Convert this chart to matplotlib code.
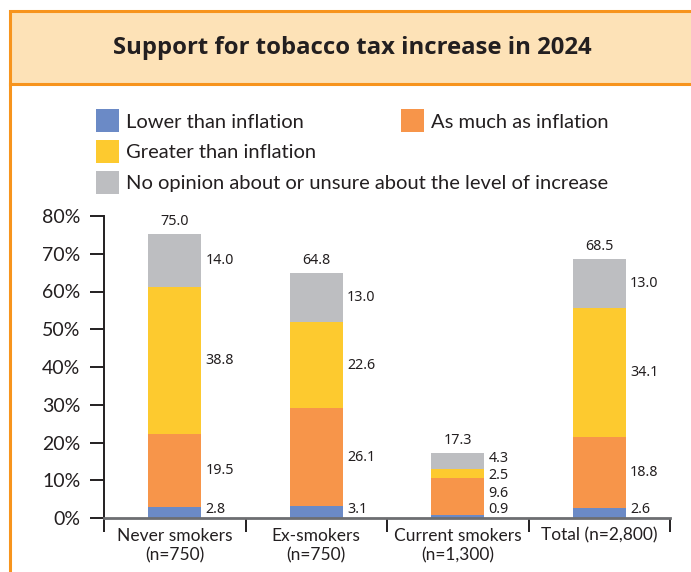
import matplotlib
matplotlib.use("Agg")
import matplotlib.pyplot as plt
from matplotlib.patches import Rectangle
from matplotlib.lines import Line2D
import numpy as np

# ---- data ----
categories = ["Never smokers\n(n=750)", "Ex-smokers\n(n=750)",
              "Current smokers\n(n=1,300)", "Total (n=2,800)"]
series_names = ["Lower than inflation", "As much as inflation",
                "Greater than inflation",
                "No opinion about or unsure about the level of increase"]
lower = [2.8, 3.1, 0.9, 2.6]
as_much = [19.5, 26.1, 9.6, 18.8]
greater = [38.8, 22.6, 2.5, 34.1]
no_opinion = [14.0, 13.0, 4.3, 13.0]
totals = [75.0, 64.8, 17.3, 68.5]
yticks = [0, 10, 20, 30, 40, 50, 60, 70, 80]
ytick_labels = ["0%", "10%", "20%", "30%", "40%", "50%", "60%", "70%", "80%"]
title = "Support for tobacco tax increase in 2024"

colors = ["#6B8AC6", "#F7954A", "#FDCA2F", "#BDBEC1"]
TXT = "#231F20"
MAIN_FONT = ["Lato", "DejaVu Sans"]
NUM_FONT = ["Noto Sans", "DejaVu Sans"]
NUM_SIZE = 10.3

W, H = 691, 572
fig = plt.figure(figsize=(W / 100, H / 100), dpi=100)
fig.patch.set_facecolor("white")


def fx(px):
    return px / W


def fy(py):
    return 1 - py / H


# title box
fig.patches.append(Rectangle((fx(10), fy(84)), fx(700) - fx(10), fy(11.5) - fy(84),
                             transform=fig.transFigure, facecolor="#FDE2B7",
                             edgecolor="#F7941D", linewidth=2.2, zorder=0))
fig.lines.append(Line2D([fx(10), fx(10)], [fy(84), fy(580)], transform=fig.transFigure,
                        color="#F7941D", linewidth=2.2))
fig.text(fx(352), fy(47.5), title, ha="center", va="center", fontsize=17.2,
         fontweight="bold", color=TXT, family=["Open Sans", "DejaVu Sans"])

# legend (manual layout)
leg_pos = [(96, 120.5), (401, 120.5), (96, 151.5), (96, 182)]
for (lx, ly), name, c in zip(leg_pos, series_names, colors):
    fig.patches.append(Rectangle((fx(lx), fy(ly + 11.5)), fx(23), 23 / H,
                                 transform=fig.transFigure, facecolor=c,
                                 edgecolor="none"))
    fig.text(fx(lx + 30), fy(ly), name, ha="left", va="center_baseline",
             fontsize=14.5, color=TXT, family=MAIN_FONT)

# axes
ax = fig.add_axes([fx(104), fy(518), fx(670) - fx(104), fy(216) - fy(518)])
x = np.arange(len(categories))
width = 0.375
stack = [lower, as_much, greater, no_opinion]
bottom = np.zeros(len(categories))
label_y = [[] for _ in categories]
for vals, c, name in zip(stack, colors, series_names):
    vals = np.array(vals)
    ax.bar(x, vals, width, bottom=bottom, color=c, label=name, zorder=2)
    for i, v in enumerate(vals):
        label_y[i].append(bottom[i] + v / 2)
    bottom = bottom + vals

# spread labels so they don't collide
MIN_GAP = 4.4
for i in range(len(categories)):
    ys = label_y[i]
    ys[0] = max(ys[0], 2.2)
    for _ in range(50):
        for k in range(len(ys) - 1):
            gap = ys[k + 1] - ys[k]
            if gap < MIN_GAP:
                d = (MIN_GAP - gap) / 2
                if k == 0:
                    ys[k + 1] += 2 * d
                else:
                    ys[k] -= d
                    ys[k + 1] += d
    for vals, yy in zip(stack, ys):
        ax.text(x[i] + width / 2 + 0.03, yy, f"{vals[i]:.1f}", ha="left", va="center",
                fontsize=NUM_SIZE, color=TXT, family=NUM_FONT)

for i, t in enumerate(totals):
    ax.annotate(f"{t:.1f}", (x[i], bottom[i]), xytext=(0, 9), textcoords="offset points",
                ha="center", va="center", fontsize=NUM_SIZE, color=TXT, family=NUM_FONT)

ax.set_xlim(-0.5, 3.5)
ax.set_ylim(0, 80)
for s in ["top", "right"]:
    ax.spines[s].set_visible(False)
ax.spines["left"].set_color("#231F20")
ax.spines["left"].set_linewidth(1.4)
ax.spines["bottom"].set_color("#6D6E71")
ax.spines["bottom"].set_linewidth(2)
ax.spines["bottom"].set_zorder(3)

ax.set_yticks(yticks)
ax.set_yticklabels(ytick_labels, fontsize=14, color=TXT, family=MAIN_FONT)
ax.tick_params(axis="y", length=10, width=1.4, color="#231F20", pad=7)

ax.set_xticks(x)
ax.set_xticklabels(categories, fontsize=12.5, color=TXT, family=MAIN_FONT, linespacing=1.3)
ax.set_xticks(np.arange(-0.5, 4.0, 1.0), minor=True)
ax.tick_params(axis="x", which="major", length=0, pad=7)
ax.tick_params(axis="x", which="minor", length=10, width=1.4, color="#231F20")

fig.savefig("out.png", dpi=100, facecolor="white")
